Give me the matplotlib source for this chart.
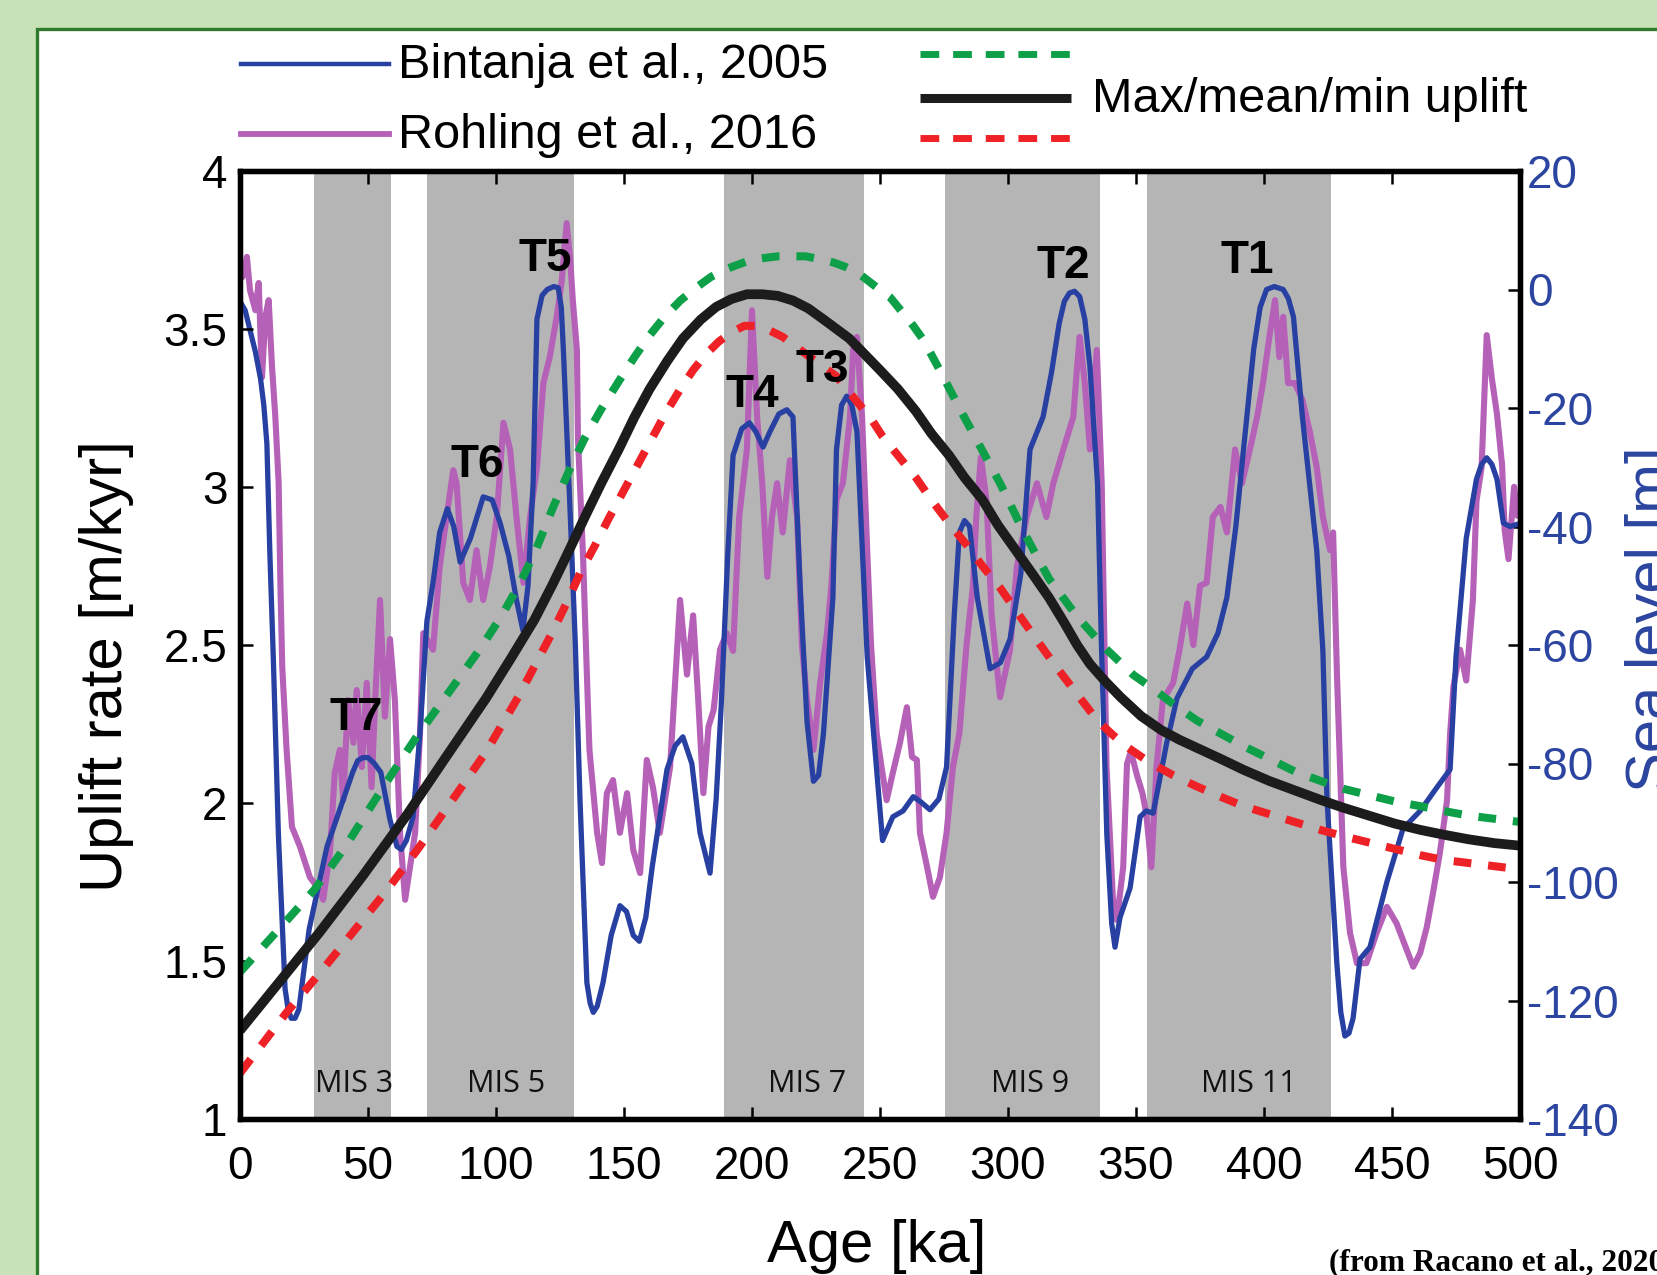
import matplotlib.pyplot as plt
from matplotlib.lines import Line2D
from matplotlib.patches import Rectangle

plt.rcParams['font.family'] = ['Liberation Sans', 'DejaVu Sans']
plt.rcParams['axes.unicode_minus'] = False

# ---- uplift curves (m/kyr) ----
mean_age = [0, 15, 31, 48, 65, 80, 96, 106, 115, 122, 128, 135, 141, 148, 154, 160, 167, 173, 180, 186,
            192, 198, 204, 210, 216, 222, 228, 233, 238, 244, 250, 257, 264, 270, 277, 283, 290, 296,
            303, 310, 316, 322, 327, 332, 338, 344, 352, 360, 367, 375, 383, 392, 402, 412, 422, 431,
            441, 451, 461, 470, 480, 490, 500]
mean_up = [1.28, 1.43, 1.59, 1.77, 1.96, 2.14, 2.33, 2.46, 2.58, 2.69, 2.79, 2.91, 3.01, 3.12, 3.22, 3.31,
           3.40, 3.47, 3.53, 3.57, 3.595, 3.61, 3.61, 3.605, 3.59, 3.565, 3.53, 3.50, 3.47, 3.42, 3.37,
           3.31, 3.24, 3.17, 3.10, 3.03, 2.96, 2.88, 2.80, 2.72, 2.65, 2.57, 2.50, 2.44, 2.385, 2.335,
           2.275, 2.23, 2.20, 2.17, 2.14, 2.105, 2.07, 2.04, 2.01, 1.985, 1.96, 1.935, 1.915, 1.90,
           1.885, 1.873, 1.865]

max_age = [0, 14, 29, 41, 52, 60, 69, 78, 86, 94, 102, 109, 115, 122, 129, 135, 141, 148, 154, 160, 166,
           172, 178, 184, 190, 195, 200, 205, 210, 216, 221, 227, 232, 237, 241, 245, 249, 254, 258, 263,
           267, 274, 281, 289, 297, 306, 316, 327, 338, 349, 357, 365, 374, 383, 392, 402, 412, 422,
           431, 441, 451, 461, 470, 480, 490, 500]
max_up = [1.465, 1.59, 1.725, 1.86, 2.0, 2.1, 2.21, 2.31, 2.40, 2.49, 2.59, 2.69, 2.79, 2.93, 3.06, 3.16,
          3.245, 3.335, 3.41, 3.48, 3.54, 3.59, 3.63, 3.665, 3.69, 3.705, 3.72, 3.725, 3.73, 3.73, 3.73,
          3.72, 3.71, 3.695, 3.68, 3.655, 3.63, 3.60, 3.56, 3.51, 3.465, 3.36, 3.25, 3.13, 3.01, 2.86,
          2.71, 2.59, 2.49, 2.405, 2.36, 2.31, 2.26, 2.22, 2.18, 2.14, 2.10, 2.07, 2.045, 2.025, 2.005,
          1.99, 1.975, 1.96, 1.95, 1.94]

min_age = [0, 9, 18, 31, 44, 57, 70, 83, 96, 109, 122, 128, 133, 139, 144, 149, 154, 160, 166, 172, 177,
           182, 187, 192, 197, 202, 207, 212, 217, 222, 228, 233, 238, 242, 247, 251, 257, 264, 270,
           277, 284, 290, 297, 303, 310, 318, 326, 335, 341, 346, 355, 364, 373, 383, 392, 402, 412,
           422, 431, 441, 451, 461, 470, 480, 490, 500]
min_up = [1.145, 1.24, 1.335, 1.46, 1.59, 1.72, 1.86, 2.01, 2.16, 2.34, 2.54, 2.64, 2.73, 2.82, 2.90,
          2.975, 3.05, 3.14, 3.23, 3.31, 3.37, 3.42, 3.46, 3.49, 3.51, 3.51, 3.495, 3.475, 3.445, 3.415,
          3.38, 3.35, 3.30, 3.26, 3.21, 3.16, 3.10, 3.03, 2.96, 2.885, 2.815, 2.75, 2.68, 2.61, 2.53,
          2.44, 2.355, 2.26, 2.215, 2.18, 2.13, 2.09, 2.055, 2.02, 1.99, 1.965, 1.94, 1.915, 1.895,
          1.875, 1.855, 1.835, 1.82, 1.81, 1.80, 1.79]

# ---- sea level curves (m) ----
bint_age = [0, 2, 4, 6, 8, 9.3, 10.5, 11.7, 13, 15, 17.6, 18.8, 20, 21.5, 23, 27, 34, 42, 44, 46, 48, 50,
            52.5, 55, 58.6, 61.3, 63, 65, 67.6, 70.3, 73, 75.4, 78, 81, 83.5, 86, 90, 95, 98.5, 101.6,
            105, 108, 110.5, 112.5, 114.5, 116, 118, 120, 122.5, 124.3, 125.5, 126.3, 129, 131, 132.8,
            135.5, 136.8, 138, 139.5, 141.8, 145, 148.4, 151, 153.6, 156, 158.5, 161, 166.8, 170,
            173, 176.5, 179.7, 183.6, 186, 188, 190.5, 192.6, 196, 199, 201.5, 204.3, 207, 210.5,
            213.6, 216, 218.8, 221.5, 224, 226, 227.9, 231.6, 233, 235, 237, 239, 241, 245, 251, 255,
            259, 263, 266, 269.5, 273, 276, 279, 281, 283, 285, 288, 293, 297, 300.8, 305, 308.6,
            313.7, 317, 320, 322, 324, 326, 328, 330, 332, 335, 336.5, 338.6, 340.5, 341.8, 343.75,
            347.7, 351.6, 354, 356.7, 362, 366, 372, 377.6, 382, 385.5, 389, 392, 396, 398.5, 401,
            404, 407.5, 409.5, 411.5, 415, 420.6, 423, 424.6, 428.5, 430, 431.6, 433.2, 434.8, 437.5,
            441.4, 448, 454.3, 461, 467.6, 472.7, 475, 479, 483, 485, 487, 489, 491, 493.5, 496, 500]
bint_sl = [-2, -3.5, -7, -10.5, -15, -19.5, -26, -45, -62, -92, -118, -121.5, -123, -123, -121.5, -108,
           -94, -84, -81.5, -79.5, -79, -79, -80, -81.5, -89.5, -94, -94.5, -93, -89, -75, -56, -49.5,
           -41, -37, -40, -46, -42, -35, -35.5, -39.4, -45, -52.4, -57.5, -50, -32.7, -5, -1, 0, 0.5,
           0.3, -3, -10, -38, -60, -86, -117, -120.5, -122, -121, -117, -109, -104, -105, -109, -110,
           -106, -97.5, -81, -77, -75.5, -80, -91.7, -98.5, -86, -70, -45, -28, -23.5, -22.5, -24,
           -26.6, -24, -21, -20.3, -21.5, -50, -73, -83, -82, -75, -52, -27, -19.5, -18, -19.5, -24,
           -62, -93, -89, -88, -85.6, -86.5, -87.8, -86, -80.6, -55, -41, -39, -40, -52, -64, -63,
           -59, -48, -27, -21.5, -14, -5.7, -2, -0.6, -0.3, -1.2, -5, -13, -33, -60, -92, -107,
           -111, -106, -101, -89, -88, -88.4, -76.5, -69, -64, -62, -58, -52, -40, -27, -10, -3, 0,
           0.5, 0, -1.5, -4.6, -21.5, -44, -61, -86, -114, -122, -126, -125.5, -123, -113, -111, -100,
           -91, -88, -84, -81, -62, -42, -32, -29.5, -28.4, -29.5, -32, -39.4, -40, -39.5]

rohl_age = [0.5, 1.0, 2.7, 3.9, 6, 7.3, 8.6, 9.9, 11.2, 12.5, 13.8, 15.1, 15.8, 16.5, 18.2, 20.3, 23.4, 27.3,
            31.2, 32.5, 35.2, 37, 39, 40.3, 42.2, 44.3, 45.6, 47.6, 49.5, 51.4, 52.8, 54.7, 56.6, 58.6,
            60.5, 62.5, 64.5, 66.4, 68.4, 70.3, 71.6, 75.4, 78, 80.7, 83.3, 84.6, 87.2, 89.8, 92.4, 95,
            97.6, 100.3, 102.9, 105.5, 108, 110.7, 113.3, 116, 118.5, 121, 123.7, 125.6, 127.6, 129,
            130, 131.6, 132, 134, 135.5, 136.5, 139.5, 141.4, 143.3, 145.7, 148.4, 151.2, 153.6,
            156.3, 158.9, 161.3, 164, 168, 171.9, 174.6, 177, 179, 181, 183, 185, 187.5, 190.1,
            192.6, 195, 198, 200, 202, 204, 206, 207.8, 209.8, 212, 214.8, 217.6, 219.5, 221.5, 224,
            226.6, 229.3, 231, 233, 235.5, 238.3, 239.5, 241, 243, 245, 246.5, 248.7, 250.6, 252.6,
            255, 257.8, 260.5, 262.5, 264.4, 265.6, 268.4, 270.7, 273.4, 276, 278.5, 281, 283.8,
            286.3, 287.6, 289.4, 291.6, 293.6, 296.9, 300.8, 303.4, 307.3, 311.3, 315, 317.7, 321.6,
            325.5, 327, 328, 330, 332, 334.7, 336.6, 338.5, 341, 342.5, 345, 346.5, 348, 350.4, 352.5,
            354, 356, 358, 360.5, 364.5, 367, 370, 372.4, 375, 377.6, 380, 383, 385.5, 388.7, 391.4,
            394.5, 397.3, 399.6, 402.3, 404.3, 406, 407.5, 409.4, 412, 415, 418, 420.6, 423, 425.8,
            427, 428.5, 431, 433.6, 436.3, 440, 444, 448, 451.8, 455.8, 458.3, 461, 463.6, 466,
            468.7, 471.5, 472.7, 474, 476.6, 479, 481.6, 483, 485, 487, 489, 491, 493, 494, 495.5,
            497.7, 499, 500]
rohl_sl = [3, 2.1, 5.5, -0.1, -3.5, 1.1, -14.8, -4.6, -1.8, -13, -21.5, -32.7, -50, -63.7, -77.7, -90.7, -94, -99.2,
           -101.4, -103, -94.6, -81.6, -77.7, -86.2, -69.3, -76.5, -67.6, -80.6, -66.4, -84, -69.3, -52.4, -72.1, -59,
           -69.3, -91.7, -103, -97.5, -91.7, -75, -58, -60.8, -46.8, -38.4, -30.5, -32.7, -49.5, -52.4, -44, -52.4,
           -46.8, -38.4, -22.5, -27, -38.4, -49.5, -38.4, -30, -15.8, -11.4, -4.6, 1.1, 11.2, 5,
           -1.8, -10.2, -25, -45, -65, -77.7, -91.7, -96.8, -85, -82.8, -91.7, -85, -94.6,
           -98.5, -79.4, -84, -91.7, -80.6, -52.4, -65, -55, -69.3, -85, -73.8, -71, -60.8, -58,
           -61, -38.4, -27, -3.5, -21.5, -32.7, -48.5, -38.4, -32.7, -41, -28.8, -38.4, -60, -69.3, -77.7,
           -66.4, -58, -50, -35.5, -32.7, -21.5, -10.2, -8, -21.5, -44, -60, -74.9, -80.6, -86.2,
           -81.6, -76.5, -70.5, -78.9, -79.4, -91.7, -97.5, -102.5, -99.2, -91.7, -80.6, -74.9, -60,
           -50, -38.4, -28.3, -35.5, -55, -68.8, -60.8, -47, -38.4, -32.7, -38.4, -32.7, -27,
           -21.5, -13, -8, -15.8, -27, -10.2, -32.7, -80.6, -103, -106.4, -97.5, -80, -78, -82, -85,
           -88.4, -97.5, -80.6, -69.3, -66.4, -60.8, -53, -60, -50, -49.5, -38.4, -36.7, -41, -27, -32.7,
           -27, -21.5, -15.8, -7.4, -1.8, -11.4, -4.6, -15.8, -15.8, -18.6, -24.2, -30, -38.4, -44,
           -41, -65, -97.5, -108.6, -113.7, -113.7, -108.6, -104.2, -107, -111.5, -114.3, -112, -107.6, -101.9,
           -95.1, -86.2, -75, -67, -60.8, -66, -52.4, -35.7, -30, -7.7, -15, -21, -29.6, -40.6, -45.5,
           -33.3, -38.2, -37]

# ---- marine isotope stages and terrace labels ----
mis_start = [28.9, 72.9, 189.1, 275.4, 354.3]
mis_end = [59.0, 130.5, 243.7, 336.0, 426.2]
mis_names = ['MIS 3', 'MIS 5', 'MIS 7', 'MIS 9', 'MIS 11']
mis_label_x = [44.5, 104, 221.7, 308.6, 393.9]

terr_names = ['T7', 'T6', 'T5', 'T4', 'T3', 'T2', 'T1']
terr_x = [45.6, 92.8, 119.1, 200.2, 227.5, 321.5, 393.4]
terr_y = [2.27, 3.07, 3.72, 3.29, 3.37, 3.70, 3.716]

# colours
c_blue = '#2740a2'
c_mag = '#b661b8'
c_green = '#0ea048'
c_red = '#ee2226'
c_black = '#1c1c1c'
c_grey = '#b5b5b6'
c_lbl = '#2b45a0'

W, H = 1658, 1275
fig = plt.figure(figsize=(W / 100, H / 100), dpi=100, facecolor='#c9e3b9')


def fx(px):
    return px / W


def fy(py):
    return 1 - py / H


# white panel with green border
fig.patches.append(Rectangle((fx(37), -0.1), 1.2, fy(29) + 0.1, transform=fig.transFigure,
                             facecolor='white', edgecolor='#2e7b2c', lw=2.4, zorder=-5))

ax = fig.add_axes([fx(240), fy(1119), fx(1520) - fx(240), fy(171) - fy(1119)])
ax2 = ax.twinx()
ax.set_zorder(2)
ax2.set_zorder(1)
ax.patch.set_visible(False)

# bottom layer: stages + sea level records
for s, e in zip(mis_start, mis_end):
    ax2.axvspan(s, e, color=c_grey, lw=0, zorder=0)
ax2.plot(rohl_age, rohl_sl, color=c_mag, lw=4.4, zorder=2)
ax2.plot(bint_age, bint_sl, color=c_blue, lw=3.8, zorder=3)

# top layer: uplift estimates
ax.plot(max_age, max_up, color=c_green, lw=5.8, dashes=(2.2, 2.1), dash_capstyle='butt')
ax.plot(min_age, min_up, color=c_red, lw=5.8, dashes=(2.2, 2.1), dash_capstyle='butt')
ax.plot(mean_age, mean_up, color=c_black, lw=7.0, solid_capstyle='butt')

for name, x, y in zip(terr_names, terr_x, terr_y):
    ax.text(x, y, name, ha='center', va='center', fontsize=33, fontweight='bold', color='black')
for name, x in zip(mis_names, mis_label_x):
    ax.text(x, 1.11, name, ha='center', va='center', fontsize=22, family='Open Sans', color='#111111')

ax.set_xlim(0, 500)
ax.set_ylim(1, 4)
ax2.set_ylim(-140, 20)
ax.set_xticks(range(0, 501, 50))
ax.set_yticks([1, 1.5, 2, 2.5, 3, 3.5, 4])
ax.set_yticklabels(['1', '1.5', '2', '2.5', '3', '3.5', '4'])
ax2.set_yticks(range(-140, 21, 20))

ax.tick_params(axis='x', direction='in', top=True, length=9, width=1.8, labelsize=33, pad=19)
ax.tick_params(axis='y', direction='in', right=False, length=9, width=1.8, labelsize=33, pad=9)
ax2.tick_params(axis='y', direction='in', length=9, width=1.8, labelsize=33, pad=5, labelcolor=c_lbl)
for loc, tk in zip(ax2.get_yticks(), ax2.yaxis.get_major_ticks()):
    if loc == 0:
        tk.tick2line.set_color(c_mag)

for a in (ax, ax2):
    for sp in a.spines.values():
        sp.set_linewidth(3.8)
        sp.set_color('black')

ax.set_ylabel('Uplift rate [m/kyr]', fontsize=43)
ax.yaxis.set_label_coords(-0.083, 0.478)
ax.set_xlabel('Age [ka]', fontsize=43)
ax.xaxis.set_label_coords(0.4977, -0.106)
ax2.set_ylabel('Sea level [m]', fontsize=43, color=c_lbl)
ax2.yaxis.set_label_coords(1.0824, 0.527)

# legend drawn above the axes
fig.add_artist(Line2D([fx(241), fx(389)], [fy(64), fy(64)], transform=fig.transFigure, color=c_blue, lw=3.2))
fig.add_artist(Line2D([fx(241), fx(389)], [fy(134), fy(134)], transform=fig.transFigure, color=c_mag, lw=4.2))
fig.text(fx(398), fy(66), 'Bintanja et al., 2005', fontsize=35, ha='left', va='center')
fig.text(fx(398), fy(135), 'Rohling et al., 2016', fontsize=35, ha='left', va='center')
fig.add_artist(Line2D([fx(920), fx(1071)], [fy(54), fy(54)], transform=fig.transFigure, color=c_green,
                      lw=5, dashes=(2.7, 2.0), dash_capstyle='butt'))
fig.add_artist(Line2D([fx(920), fx(1071)], [fy(98), fy(98)], transform=fig.transFigure, color=c_black,
                      lw=6.5, solid_capstyle='butt'))
fig.add_artist(Line2D([fx(920), fx(1071)], [fy(138), fy(138)], transform=fig.transFigure, color=c_red,
                      lw=5, dashes=(2.7, 2.0), dash_capstyle='butt'))
fig.text(fx(1092), fy(99), 'Max/mean/min uplift', fontsize=35, ha='left', va='center')

fig.text(fx(1329), fy(1263), '(from Racano et al., 2020)', fontsize=22.5, fontweight='bold',
         family='Liberation Serif', ha='left', va='center')

fig.savefig('out.png', dpi=100, facecolor=fig.get_facecolor())
